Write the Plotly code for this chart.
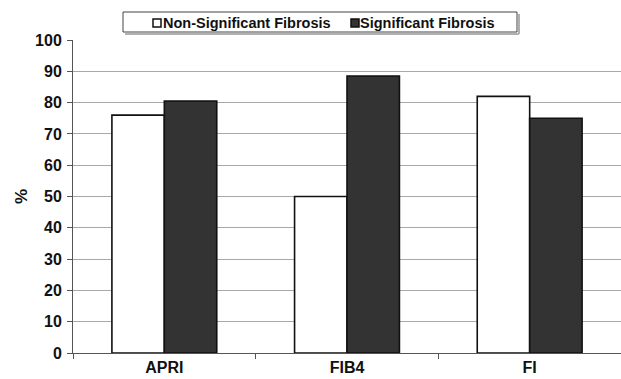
import plotly.graph_objects as go

categories = ["APRI", "FIB4", "FI"]
series_names = ["Non-Significant Fibrosis", "Significant Fibrosis"]
non_significant = [76, 50, 82]
significant = [80.5, 88.5, 75]
y_ticks = [0, 10, 20, 30, 40, 50, 60, 70, 80, 90, 100]

font_family = "Liberation Sans, Arial, sans-serif"
fill_colors = ["#ffffff", "#333333"]

W, H = 621, 379
L, R, T, B = 73, 0, 40, 26
PW, PH = W - L - R, H - T - B


def px_x(px):
    return (px - L) / PW


def px_y(py):
    return (H - B - py) / PH


fig = go.Figure()
for name, vals, col in zip(series_names, [non_significant, significant], fill_colors):
    fig.add_trace(go.Bar(
        x=categories, y=vals, name=name, showlegend=False,
        marker=dict(color=col, line=dict(color="#111111", width=1.6)),
    ))

# custom legend box (drawn like the original's boxed legend)
shapes = [
    dict(type="line", xref="paper", yref="paper", x0=px_x(125), x1=px_x(519),
         y0=px_y(34), y1=px_y(34), line=dict(color="#b0b0b0", width=2)),
    dict(type="line", xref="paper", yref="paper", x0=px_x(519), x1=px_x(519),
         y0=px_y(14), y1=px_y(34), line=dict(color="#b0b0b0", width=2)),
    dict(type="rect", xref="paper", yref="paper", x0=px_x(123), x1=px_x(517),
         y0=px_y(32), y1=px_y(12), line=dict(color="#444444", width=1),
         fillcolor="#ffffff"),
]
marker_x = [153, 351]
text_x = [162, 359]
annotations = []
for name, col, mx, tx in zip(series_names, fill_colors, marker_x, text_x):
    shapes.append(dict(type="rect", xref="paper", yref="paper",
                       x0=px_x(mx), x1=px_x(mx + 8), y0=px_y(27), y1=px_y(19),
                       line=dict(color="#111111", width=1.5), fillcolor=col))
    annotations.append(dict(
        text=name, xref="paper", yref="paper", x=px_x(tx), y=px_y(22.5),
        xanchor="left", yanchor="middle", showarrow=False, borderpad=0,
        font=dict(family=font_family, size=14.5, color="#111111", weight="bold"),
    ))

fig.update_layout(
    width=W, height=H,
    margin=dict(l=L, r=R, t=T, b=B),
    paper_bgcolor="#ffffff", plot_bgcolor="#ffffff",
    barmode="group", bargap=0.426, bargroupgap=0,
    font=dict(family=font_family, color="#111111"),
    showlegend=False,
    shapes=shapes,
    annotations=annotations,
    xaxis=dict(
        type="category", showgrid=False, showline=True, linecolor="#555555",
        linewidth=1, ticks="outside", ticklen=5, tickcolor="#555555",
        tickson="boundaries",
        tickfont=dict(family=font_family, size=16, color="#111111", weight="bold"),
    ),
    yaxis=dict(
        range=[0, 100], tickvals=y_ticks, showgrid=True, gridcolor="#a8a8a8",
        gridwidth=1.2, showline=True, linecolor="#555555", linewidth=1,
        ticks="outside", ticklen=5, tickcolor="#555555", ticklabelstandoff=2,
        tickfont=dict(family=font_family, size=16, color="#111111", weight="bold"),
        title=dict(text="%", font=dict(family=font_family, size=17, color="#111111", weight="bold"), standoff=3),
        zeroline=False,
    ),
)

fig.write_html("out.html")
